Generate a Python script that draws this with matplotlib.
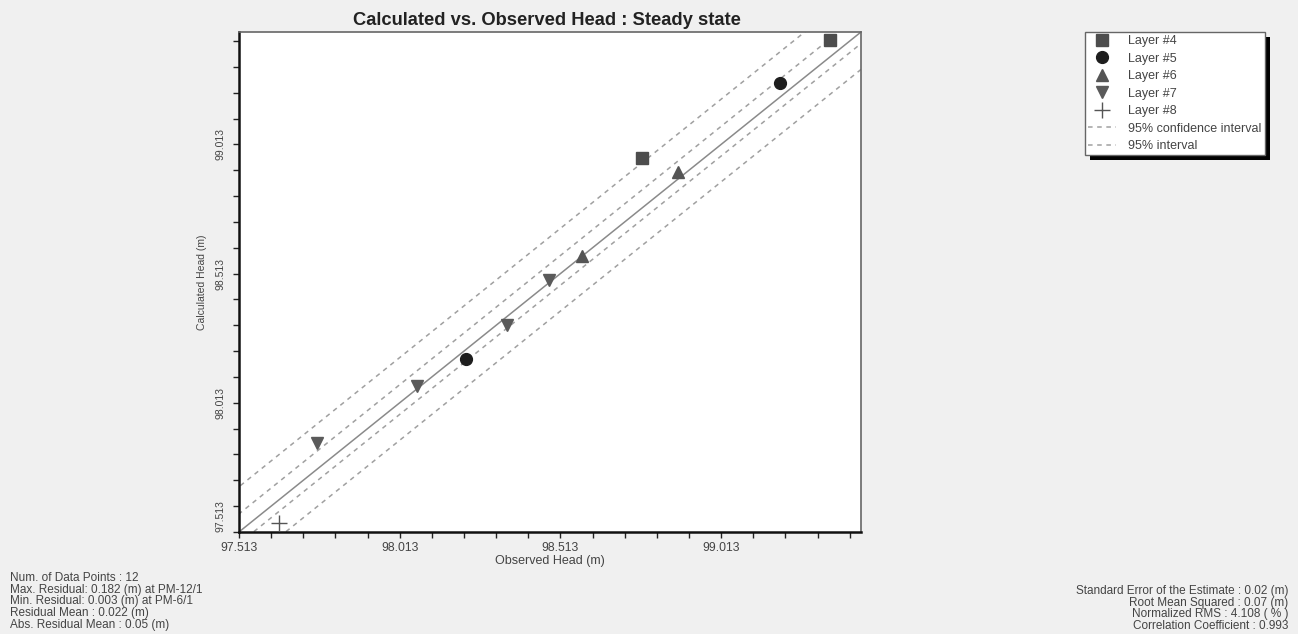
import matplotlib
matplotlib.use('Agg')
import matplotlib.pyplot as plt
from matplotlib.patches import Rectangle
import numpy as np

plt.rcParams['font.family'] = ['Liberation Sans', 'DejaVu Sans']

# observed / calculated heads per layer (m)
layer4_obs = [99.352, 98.768]
layer4_calc = [99.416, 98.959]
layer5_obs = [99.196, 98.218]
layer5_calc = [99.249, 98.184]
layer6_obs = [98.879, 98.581]
layer6_calc = [98.908, 98.583]
layer7_obs = [97.755, 98.066, 98.348, 98.479]
layer7_calc = [97.858, 98.079, 98.315, 98.490]
layer8_obs = [97.637]
layer8_calc = [97.548]

axis_min = 97.513
axis_max = 99.448
tick_labels = ['97.513', '98.013', '98.513', '99.013']

# offsets of the interval lines from the 1:1 line
conf_offsets = [0.07, -0.045]
pred_offsets = [0.175, -0.145]

stats_left = [
    'Num. of Data Points : 12',
    'Max. Residual: 0.182 (m) at PM-12/1',
    'Min. Residual: 0.003 (m) at PM-6/1',
    'Residual Mean : 0.022 (m)',
    'Abs. Residual Mean : 0.05 (m)',
]
stats_right = [
    'Standard Error of the Estimate : 0.02 (m)',
    'Root Mean Squared : 0.07 (m)',
    'Normalized RMS : 4.108 ( % )',
    'Correlation Coefficient : 0.993',
]

fig = plt.figure(figsize=(12.98, 6.34), dpi=100)
fig.patch.set_facecolor('#f0f0f0')
ax = fig.add_axes([0.1841, 0.1609, 0.4792, 0.7886])
ax.set_facecolor('white')

line_x = np.array([axis_min - 1, axis_max + 1])
ax.plot(line_x, line_x, color='#8a8a8a', lw=1.1, zorder=2)
for k, off in enumerate(conf_offsets):
    ax.plot(line_x, line_x + off, color='#a0a0a0', lw=1.1, ls=(0, (3, 3)), zorder=2,
            label='95% confidence interval' if k == 0 else None)
for k, off in enumerate(pred_offsets):
    ax.plot(line_x, line_x + off, color='#a0a0a0', lw=1.1, ls=(0, (3, 3)), zorder=2,
            label='95% interval' if k == 0 else None)

ax.plot(layer4_obs, layer4_calc, 's', color='#4d4d4d', ms=8.5, ls='none', label='Layer #4', zorder=3)
ax.plot(layer5_obs, layer5_calc, 'o', color='#1e1e1e', ms=8.5, ls='none', label='Layer #5', zorder=3)
ax.plot(layer6_obs, layer6_calc, '^', color='#555555', ms=8.5, ls='none', label='Layer #6', zorder=3)
ax.plot(layer7_obs, layer7_calc, 'v', color='#5a5a5a', ms=8.5, ls='none', label='Layer #7', zorder=3)
ax.plot(layer8_obs, layer8_calc, '+', color='#555555', ms=11, mew=1.0, ls='none', label='Layer #8', zorder=3)

ax.set_xlim(axis_min, axis_max)
ax.set_ylim(axis_min, axis_max)
major = [float(t) for t in tick_labels]
minor = [axis_min + 0.1 * i for i in range(20) if axis_min + 0.1 * i <= axis_max]
ax.set_xticks(major)
ax.set_xticklabels(tick_labels, fontsize=8.8)
ax.set_yticks(major)
ax.set_yticklabels(tick_labels, rotation=90, va='center', fontsize=7.5)
ax.yaxis.get_ticklabels()[0].set_va('bottom')
ax.set_xticks(minor, minor=True)
ax.set_yticks(minor, minor=True)
ax.tick_params(which='both', direction='out', length=4, width=1, color='#222222',
               labelcolor='#444444', top=False, right=False)
ax.tick_params(axis='x', pad=3)
ax.tick_params(axis='y', pad=6)

for side in ['left', 'bottom']:
    ax.spines[side].set_linewidth(1.8)
    ax.spines[side].set_color('#111111')
for side in ['top', 'right']:
    ax.spines[side].set_linewidth(1.2)
    ax.spines[side].set_color('#666666')

ax.set_xlabel('Observed Head (m)', fontsize=9, color='#444444', labelpad=1)
ax.set_ylabel('Calculated Head (m)', fontsize=7.5, color='#444444', labelpad=6)

fig.text(0.4215, 0.968, 'Calculated vs. Observed Head : Steady state',
         ha='center', va='center', fontsize=13.2, fontweight='bold', color='#222222')

handles, labels = ax.get_legend_handles_labels()
order = ['Layer #4', 'Layer #5', 'Layer #6', 'Layer #7', 'Layer #8',
         '95% confidence interval', '95% interval']
hmap = dict(zip(labels, handles))
leg = fig.legend([hmap[o] for o in order], order, loc='upper left',
                 bbox_to_anchor=(1085 / 1298, 1 - 32 / 634), fontsize=9,
                 frameon=True, fancybox=False, edgecolor='#666666',
                 facecolor='white', framealpha=1,
                 handlelength=2.2, labelspacing=0.44, borderpad=0.25,
                 handletextpad=1.0, borderaxespad=0)
leg.get_frame().set_linewidth(1.0)
for t in leg.get_texts():
    t.set_color('#444444')

fig.canvas.draw()
bb = leg.get_window_extent()
fig.patches.append(Rectangle((bb.x0 + 5, bb.y0 - 5), bb.width, bb.height,
                             transform=None, facecolor='black', edgecolor='none',
                             zorder=4))
leg.set_zorder(5)

for i, s in enumerate(stats_left):
    fig.text(10 / 1298, 1 - (578 + 11.7 * i) / 634, s, ha='left', va='center',
             fontsize=8.5, color='#444444')
for i, s in enumerate(stats_right):
    fig.text(1288 / 1298, 1 - (591 + 11.7 * i) / 634, s, ha='right', va='center',
             fontsize=8.5, color='#444444')

fig.savefig('out.png', dpi=100, facecolor=fig.get_facecolor())
